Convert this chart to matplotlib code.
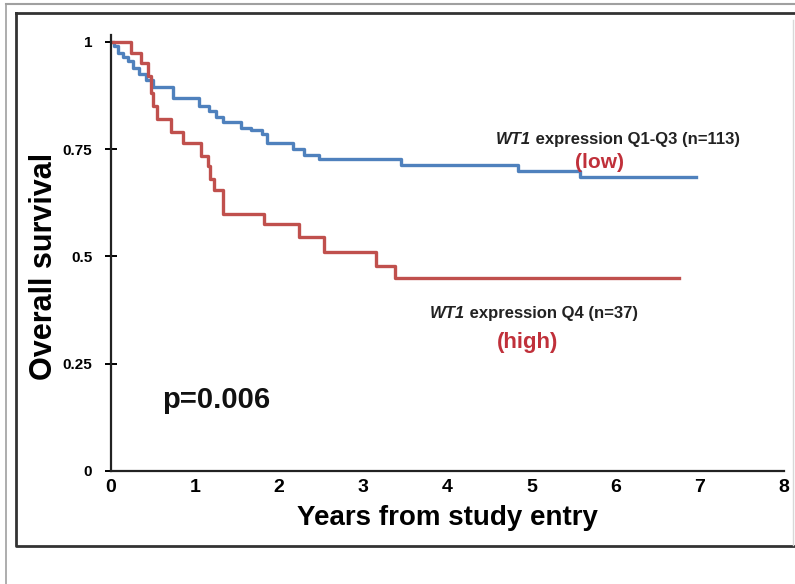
import matplotlib
matplotlib.use("Agg")
import matplotlib.pyplot as plt
from matplotlib.lines import Line2D

# Kaplan-Meier steps
low_years = [0, 0.03, 0.08, 0.14, 0.20, 0.26, 0.33, 0.42, 0.50, 0.74, 1.05, 1.17, 1.25,
             1.33, 1.55, 1.67, 1.79, 1.86, 2.16, 2.29, 2.47, 3.45, 4.84, 5.57, 6.95]
low_surv = [1.0, 0.99, 0.975, 0.965, 0.955, 0.94, 0.925, 0.91, 0.895, 0.87, 0.85, 0.838, 0.826,
            0.814, 0.80, 0.795, 0.785, 0.765, 0.75, 0.737, 0.726, 0.714, 0.70, 0.686, 0.686]

high_years = [0, 0.24, 0.36, 0.44, 0.47, 0.50, 0.55, 0.71, 0.85, 1.07, 1.15, 1.18, 1.22,
              1.33, 1.82, 2.24, 2.53, 3.15, 3.37, 6.75]
high_surv = [1.0, 0.975, 0.95, 0.92, 0.88, 0.85, 0.82, 0.79, 0.765, 0.735, 0.71, 0.68, 0.655,
             0.60, 0.575, 0.545, 0.51, 0.478, 0.45, 0.45]

x_ticks = [0, 1, 2, 3, 4, 5, 6, 7, 8]
y_ticks = [0, 0.25, 0.5, 0.75, 1]
y_ticklabels = ["0", "0.25", "0.5", "0.75", "1"]

plt.rcParams["font.family"] = ["Liberation Sans", "DejaVu Sans"]

W, H = 795, 584
fig = plt.figure(figsize=(W / 100, H / 100), dpi=100)


def fx(px):
    return px / W


def fy(py):
    return 1 - py / H


# picture frame
fig.add_artist(Line2D([fx(6), fx(795)], [fy(4), fy(4)], color="#a0a0a0", lw=1.5))
fig.add_artist(Line2D([fx(6), fx(6)], [fy(4), fy(584)], color="#a0a0a0", lw=1.2))
fig.add_artist(Line2D([fx(16), fx(800), fx(800), fx(16), fx(16)],
                      [fy(13), fy(13), fy(546), fy(546), fy(13)], color="#333333", lw=2))
fig.add_artist(Line2D([fx(793), fx(793)], [fy(20), fy(545)], color="#d8d8d8", lw=1))

ax = fig.add_axes([fx(111), fy(471), fx(784) - fx(111), fy(35) - fy(471)])

ax.step(low_years, low_surv, where="post", color="#4f81bd", lw=2.4)
ax.step(high_years, high_surv, where="post", color="#c0504d", lw=2.4)

ax.set_xlim(0, 8)
ax.set_ylim(0, 1.016)
for s in ["top", "right"]:
    ax.spines[s].set_visible(False)
for s in ["left", "bottom"]:
    ax.spines[s].set_linewidth(1.6)
    ax.spines[s].set_color("#222222")

ax.set_xticks(x_ticks)
ax.set_xticklabels([str(v) for v in x_ticks], fontsize=14, fontweight="bold")
ax.set_yticks(y_ticks)
ax.set_yticklabels(y_ticklabels, fontsize=11, fontweight="bold")
ax.tick_params(axis="x", length=0, pad=6)
ax.tick_params(axis="y", direction="inout", length=9, width=1.4, pad=9)

ax.set_xlabel("Years from study entry", fontsize=20, fontweight="bold", labelpad=6)
ax.set_ylabel("Overall survival", fontsize=22, fontweight="bold")
ax.yaxis.set_label_coords(-0.078, 0.47)

# curve labels
t1 = ax.text(4.57, 0.772, "WT1", fontsize=12, fontweight="bold", style="italic",
             va="center", ha="left", color="#222222")
ax.annotate(" expression Q1-Q3 (n=113)", xy=(1, 0.5), xycoords=t1, va="center",
            ha="left", fontsize=12, fontweight="bold", color="#222222")
ax.text(5.81, 0.72, "(low)", fontsize=15, fontweight="bold", color="#c0303a",
        ha="center", va="center")

t2 = ax.text(3.79, 0.368, "WT1", fontsize=12, fontweight="bold", style="italic",
             va="center", ha="left", color="#222222")
ax.annotate(" expression Q4 (n=37)", xy=(1, 0.5), xycoords=t2, va="center",
            ha="left", fontsize=12, fontweight="bold", color="#222222")
ax.text(4.95, 0.30, "(high)", fontsize=16, fontweight="bold", color="#c0303a",
        ha="center", va="center")

ax.text(0.61, 0.166, "p=0.006", fontsize=21, fontweight="bold", ha="left", va="center",
        color="#111111")

fig.savefig("out.png", dpi=100)
